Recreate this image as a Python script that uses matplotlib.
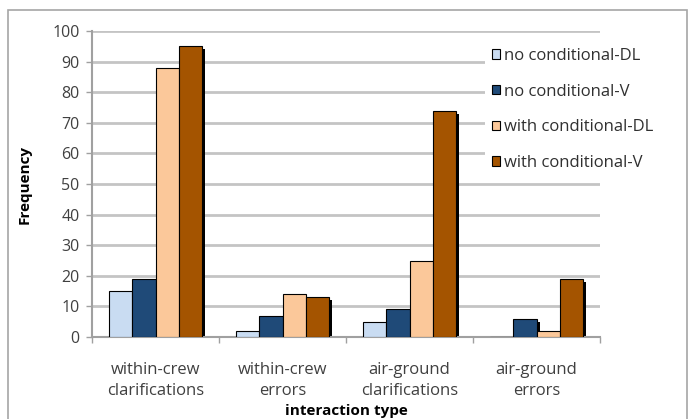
import numpy as np
import matplotlib
matplotlib.use("Agg")
import matplotlib.pyplot as plt
from matplotlib.patches import Rectangle, Patch

categories = ["within-crew\nclarifications", "within-crew\nerrors",
              "air-ground\nclarifications", "air-ground\nerrors"]
series_names = ["no conditional-DL", "no conditional-V",
                "with conditional-DL", "with conditional-V"]
no_cond_dl = [15, 2, 5, 0]
no_cond_v = [19, 7, 9, 6]
with_cond_dl = [88, 14, 25, 2]
with_cond_v = [95, 13, 74, 19]
yticks = list(range(0, 101, 10))

colors = ["#c9dcf2", "#1f4a78", "#fbc89a", "#a45400"]
series = [no_cond_dl, no_cond_v, with_cond_dl, with_cond_v]

plt.rcParams["font.family"] = ["Open Sans", "DejaVu Sans"]

fig = plt.figure(figsize=(6.9, 4.19), dpi=100)
fig.patches.append(Rectangle((8 / 690, -0.05), 679 / 690, 1 - 10 / 419 + 0.05,
                             transform=fig.transFigure, fill=False,
                             edgecolor="#a6a6a6", linewidth=1.2))

ax = fig.add_axes([92 / 690, 1 - 337 / 419, 508 / 690, 306 / 419])

x = np.arange(len(categories))
n = len(series)
width = 1 / (n + 1.5)
for i, (vals, col) in enumerate(zip(series, colors)):
    pos = x - n * width / 2 + (i + 0.5) * width
    # drop shadow behind bars
    for p, v in zip(pos, vals):
        if v > 0:
            ax.add_patch(Rectangle((p - width / 2 + 0.025, 0), width, max(v - 1.0, 0),
                                   facecolor="black", edgecolor="none", zorder=2))
    ax.bar(pos, vals, width, color=col, edgecolor="black", linewidth=0.8,
           zorder=3, label=series_names[i])

ax.set_xlim(-0.5, len(categories) - 0.5)
ax.set_ylim(0, 100)
ax.set_yticks(yticks)
ax.set_xticks(x)
ax.set_xticklabels(categories, fontsize=12, color="#404040", linespacing=1.45)
ax.set_xticks(np.arange(len(categories) + 1) - 0.5, minor=True)
ax.tick_params(axis="x", which="major", length=0, pad=18)
ax.tick_params(axis="x", which="minor", length=4, color="#a0a0a0", width=1)
ax.tick_params(axis="y", labelsize=11.5, labelcolor="#404040", length=4,
               color="#a0a0a0", width=1, pad=5)
ax.grid(axis="y", color="#c4c4c4", linewidth=2, zorder=0)
ax.set_axisbelow(True)
for s in ["top", "right"]:
    ax.spines[s].set_visible(False)
for s in ["left", "bottom"]:
    ax.spines[s].set_color("#a0a0a0")
    ax.spines[s].set_linewidth(1.5)

fig.text(25 / 690, 1 - 184 / 419, "Frequency", rotation=90, ha="center",
         va="center", fontsize=11, fontweight="bold")
fig.text(346 / 690, 1 - 411 / 419, "interaction type", ha="center",
         va="center", fontsize=11, fontweight="bold")

handles = [Patch(facecolor=c, edgecolor="black", linewidth=0.8) for c in colors]
leg = fig.legend(handles, series_names, loc="upper left",
                 bbox_to_anchor=(477 / 690, 1 - 33 / 419), frameon=True,
                 fontsize=12, handlelength=0.5, handleheight=0.5,
                 handletextpad=0.25, labelspacing=1.18, borderpad=0.4,
                 labelcolor="#303030")
leg.get_frame().set_facecolor("white")
leg.get_frame().set_edgecolor("none")
leg.get_frame().set_alpha(1)

fig.savefig("out.png", dpi=100)
